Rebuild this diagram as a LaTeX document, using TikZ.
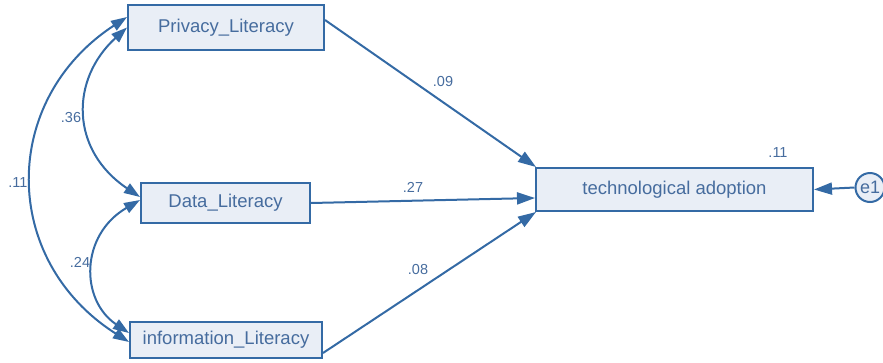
\documentclass[tikz,border=0pt]{standalone}
\usepackage{fontspec}
\setmainfont{Liberation Sans}
\usetikzlibrary{arrows.meta}
\definecolor{amosline}{RGB}{52,106,165}
\definecolor{amostext}{RGB}{70,108,158}
\definecolor{amosfill}{RGB}{233,238,246}
\tikzset{
  varbox/.style={draw=amosline, line width=2pt, fill=amosfill, text=amostext,
    font=\fontsize{18.5}{21}\selectfont, inner sep=0pt},
  errcirc/.style={circle, draw=amosline, line width=2pt, fill=amosfill, text=amostext,
    font=\fontsize{18}{20}\selectfont, minimum size=29pt, inner sep=0pt},
  path/.style={draw=amosline, line width=2pt, -{Triangle[length=18pt,width=12pt]}},
  cov/.style={draw=amosline, line width=2pt,
    {Triangle[length=16pt,width=11pt]}-{Triangle[length=16pt,width=11pt]}},
  coef/.style={text=amostext, font=\fontsize{14.5}{16}\selectfont, inner sep=0pt}
}
\begin{document}
\begin{tikzpicture}[x=1pt, y=-1pt]
    \useasboundingbox (0,0) rectangle (883,362);

    % observed variables
    \node[varbox, minimum width=196pt, minimum height=45pt] (pl) at (226,27.5) {Privacy\_Literacy};
    \node[varbox, minimum width=169pt, minimum height=40pt] (dl) at (225.5,203) {Data\_Literacy};
    \node[varbox, minimum width=192pt, minimum height=36pt] (il) at (226,340) {information\_Literacy};
    \node[varbox, minimum width=277pt, minimum height=43pt] (ta) at (674.5,189.5) {technological adoption};
    \node[errcirc] (e1) at (870,187.5) {e1};

    % regression paths
    \draw[path] ([yshift=7.5pt]pl.east) -- ([xshift=1pt]ta.north west);
    \draw[path] (dl.east) -- ([yshift=-8.5pt]ta.west);
    \draw[path] ([yshift=-13pt]il.east) -- ([xshift=1pt]ta.south west);
    \draw[path] (e1.west) -- (ta.east);

    % covariances
    \draw[cov] (pl.west) .. controls +(-57,52) and +(-70,-47) .. ([yshift=6pt]dl.west);
    \draw[cov] ([yshift=3pt]dl.west) .. controls +(-60,35) and +(-49,-33) .. ([yshift=7pt]il.west);
    \draw[cov] ([yshift=10.5pt]pl.west) .. controls +(-127,83) and +(-129,-82) .. ([yshift=-2pt]il.west);

    % estimates
    \node[coef] (b1) at (443,82) {.09};
    \node[coef] (b2) at (413,187) {.27};
    \node[coef] (b3) at (418,270) {.08};
    \node[coef] (r1) at (71,118) {.36};
    \node[coef] (r2) at (80,262) {.24};
    \node[coef] (r3) at (18,183) {.11};
    \node[coef] (sq) at (778,153) {.11};
\end{tikzpicture}
\end{document}
